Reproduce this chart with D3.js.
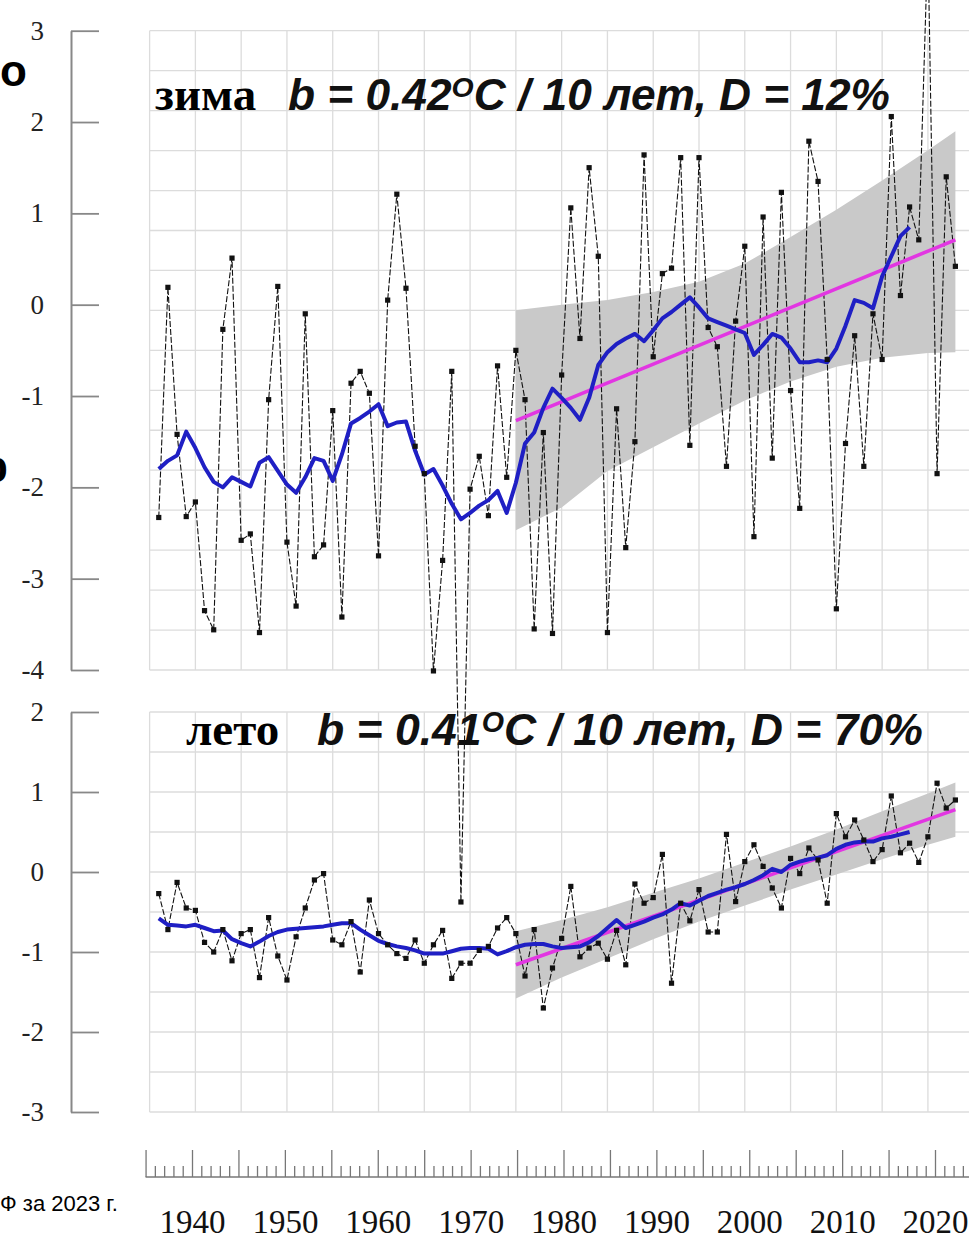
<!DOCTYPE html>
<html><head><meta charset="utf-8">
<script src="https://cdn.jsdelivr.net/npm/d3@7"></script>
<style>body{margin:0;background:#fff}svg{display:block}</style>
</head><body>
<svg id="c" width="969" height="1239"></svg>
<script>
// ---------------- DATA ----------------
const years = d3.range(1936, 2024);
const winter = [-2.33,0.19,-1.42,-2.32,-2.16,-3.35,-3.56,-0.27,0.51,-2.58,
 -2.51,-3.59,-1.04,0.20,-2.60,-3.30,-0.10,-2.76,-2.63,-1.16,
 -3.42,-0.86,-0.73,-0.97,-2.75,0.05,1.21,0.18,-1.55,-1.85,
 -4.01,-2.80,-0.73,-6.54,-2.02,-1.66,-2.31,-0.67,-1.89,-0.50,
 -1.04,-3.55,-1.40,-3.60,-0.77,1.06,-0.37,1.50,0.53,-3.59,
 -1.14,-2.66,-1.50,1.64,-0.57,0.34,0.40,1.61,-1.54,1.61,
 -0.25,-0.46,-1.77,-0.18,0.64,-2.54,0.96,-1.68,1.23,-0.94,
 -2.23,1.79,1.35,-0.60,-3.33,-1.52,-0.34,-1.77,-0.10,-0.60,
 2.06,0.10,1.07,0.71,4.00,-1.85,1.40,0.42];
const summer = [-0.27,-0.72,-0.13,-0.45,-0.48,-0.88,-1.00,-0.72,-1.11,-0.77,
 -0.72,-1.32,-0.57,-1.05,-1.35,-0.81,-0.45,-0.10,-0.02,-0.85,
 -0.91,-0.62,-1.25,-0.35,-0.77,-0.91,-1.02,-1.08,-0.85,-1.14,
 -0.91,-0.73,-1.33,-1.14,-1.14,-0.98,-0.93,-0.70,-0.57,-0.77,
 -1.30,-0.72,-1.70,-1.20,-0.83,-0.18,-1.06,-0.95,-0.89,-1.09,
 -0.73,-1.16,-0.15,-0.39,-0.32,0.22,-1.39,-0.39,-0.61,-0.22,
 -0.75,-0.75,0.47,-0.37,0.13,0.34,0.07,-0.20,-0.45,0.17,
 -0.02,0.30,0.15,-0.39,0.73,0.44,0.65,0.40,0.13,0.28,
 0.95,0.24,0.36,0.12,0.44,1.11,0.80,0.90];
const smoothYears = d3.range(1936, 2019);
const winterSmooth = [-1.80,-1.71,-1.65,-1.39,-1.57,-1.78,-1.94,-2.00,-1.89,-1.94,
 -1.99,-1.73,-1.67,-1.82,-1.97,-2.06,-1.89,-1.68,-1.71,-1.93,
 -1.64,-1.30,-1.24,-1.17,-1.09,-1.33,-1.29,-1.28,-1.60,-1.86,
 -1.80,-1.98,-2.18,-2.35,-2.28,-2.20,-2.14,-2.04,-2.28,-1.95,
 -1.52,-1.40,-1.13,-0.92,-1.02,-1.13,-1.26,-1.02,-0.66,-0.52,
 -0.43,-0.37,-0.32,-0.40,-0.28,-0.15,-0.08,0.00,0.08,-0.03,
 -0.15,-0.19,-0.23,-0.27,-0.31,-0.55,-0.44,-0.32,-0.36,-0.48,
 -0.63,-0.63,-0.61,-0.63,-0.48,-0.23,0.05,0.02,-0.04,0.31,
 0.53,0.75,0.85];
const summerSmooth = [-0.58,-0.66,-0.67,-0.68,-0.66,-0.70,-0.74,-0.73,-0.84,-0.89,
 -0.93,-0.87,-0.80,-0.75,-0.72,-0.71,-0.70,-0.69,-0.68,-0.66,
 -0.64,-0.64,-0.72,-0.79,-0.86,-0.90,-0.93,-0.95,-0.98,-1.02,
 -1.02,-1.02,-0.99,-0.96,-0.95,-0.95,-0.96,-1.03,-0.99,-0.94,
 -0.91,-0.90,-0.90,-0.93,-0.95,-0.94,-0.93,-0.88,-0.80,-0.70,
 -0.60,-0.70,-0.66,-0.62,-0.57,-0.53,-0.47,-0.39,-0.42,-0.36,
 -0.30,-0.26,-0.22,-0.19,-0.15,-0.10,-0.04,0.04,0.00,0.09,
 0.13,0.16,0.18,0.21,0.29,0.34,0.37,0.38,0.38,0.42,
 0.44,0.47,0.50];
const bandYears = [1975,1980,1985,1990,1995,2000,2005,2010,2015,2020,2023];
const winterUpper = [-0.06,0.00,0.05,0.14,0.25,0.45,0.74,1.04,1.36,1.69,1.90];
const winterLower = [-2.47,-2.22,-1.82,-1.56,-1.30,-1.05,-0.84,-0.68,-0.58,-0.53,-0.52];
const summerUpper = [-0.74,-0.60,-0.44,-0.26,-0.08,0.12,0.32,0.53,0.76,0.98,1.12];
const summerLower = [-1.58,-1.32,-1.08,-0.84,-0.62,-0.42,-0.22,-0.03,0.16,0.34,0.44];
const trendYears = [1975, 2023];
const winterTrend = [-1.27, 0.71];
const summerTrend = [-1.16, 0.78];
const winterTicks = [3,2,1,0,-1,-2,-3,-4];
const summerTicks = [2,1,0,-1,-2,-3];
const yearLabels = [1940,1950,1960,1970,1980,1990,2000,2010,2020];

// ---------------- SCALES ----------------
const svg = d3.select("#c");
const x = d3.scaleLinear().domain([1935, 2025]).range([149.6, 973.7]);
const xLab = d3.scaleLinear().domain([1940, 2020]).range([192, 935]);
const yTop = d3.scaleLinear().domain([-4, 3]).range([670, 30.7]);
const yBot = d3.scaleLinear().domain([-3, 2]).range([1112, 712]);

const SERIF = '"Liberation Serif","Times New Roman",serif';
const SANS = '"Liberation Sans",Arial,Helvetica,sans-serif';

// ---------------- GRID ----------------
function grid(y, hVals) {
  const g = svg.append("g").attr("stroke", "#dcdcdc").attr("stroke-width", 1.3);
  const [y0, y1] = [y(y.domain()[0]), y(y.domain()[1])];
  g.selectAll("line.v").data(d3.range(1935, 2026, 5)).join("line")
    .attr("x1", d => x(d)).attr("x2", d => x(d)).attr("y1", y1).attr("y2", y0);
  g.selectAll("line.h").data(hVals).join("line")
    .attr("x1", x(1935)).attr("x2", 969).attr("y1", d => y(d)).attr("y2", d => y(d));
}
grid(yTop, d3.range(17).map(i => 3 - i * 7 / 16));
grid(yBot, d3.range(11).map(i => 2 - i * 0.5));

// ---------------- TITLES ----------------
function title(xs, xi, yb, word, b, d, width) {
  svg.append("text").attr("x", xs).attr("y", yb)
    .style("font-family", SERIF).style("font-weight", "bold").style("font-size", "47px")
    .text(word);
  const t = svg.append("text").attr("x", xi).attr("y", yb)
    .style("font-family", SANS).style("font-weight", "bold").style("font-style", "italic")
    .style("font-size", "42px").attr("fill", "#111");
  t.append("tspan").text("b = " + b);
  t.append("tspan").style("font-size", "27px").attr("dy", -13).text("O");
  t.append("tspan").attr("dy", 13).text("C / 10 лет, D = " + d);
  const w = t.node().getComputedTextLength();
  const f = width / w;
  t.style("font-size", (42 * f) + "px");
  t.select("tspan:nth-child(2)").style("font-size", (27 * f) + "px");
}
title(155, 288, 110, "зима", "0.42", "12%", 602);
title(186, 317, 745, "лето", "0.41", "70%", 606);

// ---------------- PANELS ----------------
function panel(y, vals, smooth, up, lo, trend) {
  const band = d3.area().x((d, i) => x(bandYears[i])).y0((d, i) => y(lo[i])).y1(d => y(d));
  svg.append("path").datum(up).attr("d", band).attr("fill", "#c9c9c9");
  const line = d3.line().x((d, i) => x(years[i])).y(d => y(d));
  svg.append("path").datum(vals).attr("d", line).attr("fill", "none")
    .attr("stroke", "#111").attr("stroke-width", 1.1).attr("stroke-dasharray", "6,2");
  svg.append("path").datum(trend)
    .attr("d", d3.line().x((d, i) => x(trendYears[i])).y(d => y(d)))
    .attr("stroke", "#e236e2").attr("stroke-width", 3.6).attr("fill", "none");
  svg.append("path").datum(smooth)
    .attr("d", d3.line().x((d, i) => x(smoothYears[i])).y(d => y(d)))
    .attr("stroke", "#1f1fc4").attr("stroke-width", 4).attr("fill", "none")
    .attr("stroke-linejoin", "round");
  svg.append("g").selectAll("rect").data(vals).join("rect")
    .attr("x", (d, i) => x(years[i]) - 2.6).attr("y", d => y(d) - 2.6)
    .attr("width", 5.2).attr("height", 5.2).attr("fill", "#111");
}
panel(yTop, winter, winterSmooth, winterUpper, winterLower, winterTrend);
panel(yBot, summer, summerSmooth, summerUpper, summerLower, summerTrend);

// ---------------- LEFT AXES ----------------
function leftAxis(y, ticks) {
  const g = svg.append("g").attr("transform", "translate(71,0)");
  const halves = d3.range(ticks.length - 1).map(i => (ticks[i] + ticks[i + 1]) / 2);
  g.call(d3.axisLeft(y).tickValues(halves).tickSize(-15).tickSizeOuter(0).tickFormat(""));
  g.call(d3.axisLeft(y).tickValues(ticks).tickSize(-28).tickSizeOuter(0).tickPadding(27)
    .tickFormat(d => String(d)));
  g.selectAll("path.domain").attr("stroke", "#888").attr("stroke-width", 2);
  g.selectAll("line").attr("stroke", "#888").attr("stroke-width", 1.8);
  g.selectAll("text").style("font-family", SERIF).style("font-size", "27px").attr("fill", "#222");
}
leftAxis(yTop, winterTicks);
leftAxis(yBot, summerTicks);

// ---------------- BOTTOM AXIS ----------------
const gx = svg.append("g").attr("transform", "translate(0,1177)");
gx.append("line").attr("x1", xLab(1935)).attr("x2", 969).attr("stroke", "#aaa").attr("stroke-width", 2.2);
const allYears = d3.range(1935, 2025);
gx.append("g").call(d3.axisTop(xLab).tickValues(allYears.filter(d => d % 5 !== 0)).tickSize(11).tickFormat(""))
  .call(g => g.select(".domain").remove());
gx.append("g").call(d3.axisTop(xLab).tickValues(allYears.filter(d => d % 5 === 0)).tickSize(27).tickFormat(""))
  .call(g => g.select(".domain").remove());
gx.selectAll("line").attr("stroke", "#777").attr("stroke-width", 1.3);
const gl = gx.append("g").call(d3.axisBottom(xLab).tickValues(yearLabels).tickSize(0).tickPadding(33)
  .tickFormat(d => String(d)));
gl.select(".domain").remove();
gl.selectAll("text").style("font-family", SERIF).style("font-size", "33px").attr("fill", "#111");

// ---------------- FRAGMENTS OF SURROUNDING TEXT ----------------
svg.append("text").attr("x", 0).attr("y", 86).style("font-family", SANS).style("font-weight", "bold")
  .style("font-size", "44px").text("о");
svg.append("text").attr("x", -19).attr("y", 482).style("font-family", SANS).style("font-weight", "bold")
  .style("font-size", "44px").text("р");
svg.append("text").attr("x", 0).attr("y", 1211).style("font-family", SANS)
  .style("font-size", "22px").text("Ф за 2023 г.");
</script>
</body></html>
